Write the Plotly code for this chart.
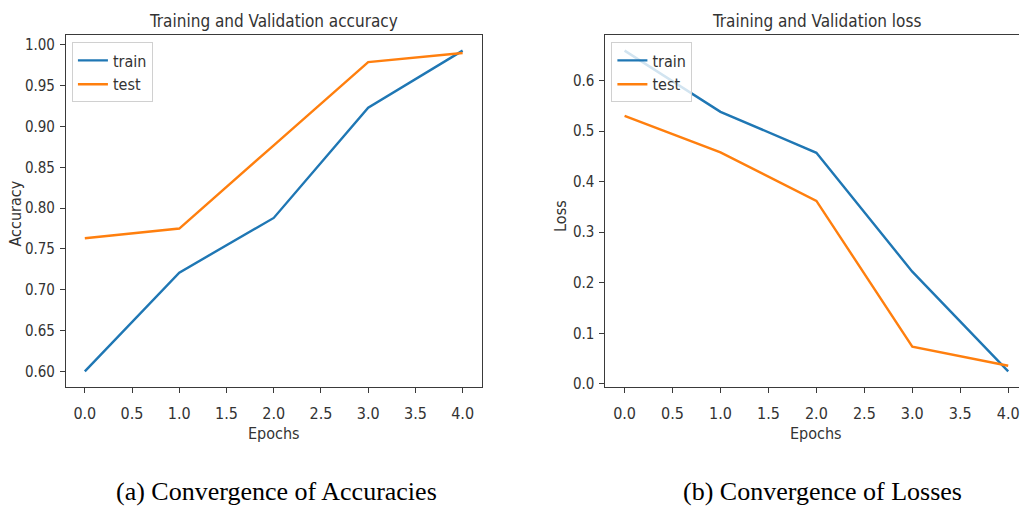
import plotly.graph_objects as go

# Training history (5 epochs)
epochs = [0, 1, 2, 3, 4]
acc_train = [0.600, 0.721, 0.788, 0.923, 0.993]
acc_test = [0.763, 0.775, 0.877, 0.979, 0.990]
loss_train = [0.659, 0.538, 0.457, 0.222, 0.025]
loss_test = [0.530, 0.458, 0.362, 0.074, 0.036]

x_ticks = [0.0, 0.5, 1.0, 1.5, 2.0, 2.5, 3.0, 3.5, 4.0]
acc_ticks = [0.60, 0.65, 0.70, 0.75, 0.80, 0.85, 0.90, 0.95, 1.00]
loss_ticks = [0.0, 0.1, 0.2, 0.3, 0.4, 0.5, 0.6]

W, H = 1020, 509
BLUE = "#1f77b4"
ORANGE = "#ff7f0e"
FONT = "DejaVu Sans Condensed, Liberation Sans Narrow, DejaVu Sans"
SERIF = "Liberation Serif, Times New Roman, serif"
AXC = "#3a3a3a"
TXT = "#333333"


def padded(vals, frac=0.05):
    lo, hi = min(vals), max(vals)
    m = (hi - lo) * frac
    return [lo - m, hi + m]


def px_x(p):
    return p / W


def px_y(p):
    return 1 - p / H


fig = go.Figure()

series = [
    (acc_train, "train", BLUE, "x", "y", "legend"),
    (acc_test, "test", ORANGE, "x", "y", "legend"),
    (loss_train, "train", BLUE, "x2", "y2", "legend2"),
    (loss_test, "test", ORANGE, "x2", "y2", "legend2"),
]
for vals, name, col, xa, ya, lg in series:
    fig.add_trace(go.Scatter(
        x=epochs, y=vals, name=name, mode="lines",
        line=dict(color=col, width=2.4),
        xaxis=xa, yaxis=ya, legend=lg,
    ))

# plot areas in pixels
L1, R1 = 66, 482
L2, R2full = 606, 1028.4
TOP, BOT = 35, 392

xr = padded(epochs)
# the right panel runs past the page edge; keep the same scale
r2_end = xr[0] + (xr[1] - xr[0]) * (W - L2) / (R2full - L2)

axis_common = dict(
    showgrid=False, zeroline=False, showline=True, linecolor=AXC, linewidth=1,
    ticks="outside", ticklen=5, tickwidth=1, tickcolor=AXC,
    ticklabeloverflow="allow",
)
xfont = dict(family=FONT, size=16, color=TXT)
yfont = dict(family=FONT, size=15, color=TXT)

legend_common = dict(
    xanchor="left", yanchor="top",
    bgcolor="rgba(255,255,255,0.8)", bordercolor="#d0d0d0", borderwidth=1,
    font=dict(family=FONT, size=16, color=TXT),
    itemwidth=30, tracegroupgap=0,
)

fig.update_layout(
    width=W, height=H, autosize=False,
    margin=dict(l=0, r=0, t=0, b=0),
    paper_bgcolor="white", plot_bgcolor="white",
    xaxis=dict(domain=[px_x(L1), px_x(R1)], range=xr, tickvals=x_ticks,
               ticktext=[f"{v:.1f}" for v in x_ticks], mirror=True,
               anchor="y", ticklabelstandoff=6, tickfont=xfont, **axis_common),
    yaxis=dict(domain=[px_y(BOT), px_y(TOP)], range=padded(acc_train + acc_test),
               tickvals=acc_ticks, ticktext=[f"{v:.2f}" for v in acc_ticks],
               mirror=True, anchor="x", ticklabelstandoff=2, tickfont=yfont,
               **axis_common),
    xaxis2=dict(domain=[px_x(L2), 1.0], range=[xr[0], r2_end], tickvals=x_ticks,
                ticktext=[f"{v:.1f}" for v in x_ticks], mirror=True,
                anchor="y2", ticklabelstandoff=6, tickfont=xfont, **axis_common),
    yaxis2=dict(domain=[px_y(BOT), px_y(TOP)], range=padded(loss_train + loss_test),
                tickvals=loss_ticks, ticktext=[f"{v:.1f}" for v in loss_ticks],
                mirror=False, anchor="x2", ticklabelstandoff=2, tickfont=yfont,
                **axis_common),
    legend=dict(x=px_x(72), y=px_y(43), **legend_common),
    legend2=dict(x=px_x(612), y=px_y(43), **legend_common),
)

annotations = [
    # panel titles
    dict(text="Training and Validation accuracy", x=px_x((L1 + R1) / 2), y=px_y(21),
         font=dict(family=FONT, size=17, color=TXT)),
    dict(text="Training and Validation loss", x=px_x((L2 + R2full) / 2), y=px_y(21),
         font=dict(family=FONT, size=17, color=TXT)),
    # axis titles
    dict(text="Epochs", x=px_x((L1 + R1) / 2), y=px_y(439),
         font=dict(family=FONT, size=16, color=TXT)),
    dict(text="Epochs", x=px_x((L2 + R2full) / 2), y=px_y(439),
         font=dict(family=FONT, size=16, color=TXT)),
    dict(text="Accuracy", x=px_x(15), y=px_y(216), textangle=-90,
         font=dict(family=FONT, size=16, color=TXT)),
    dict(text="Loss", x=px_x(561), y=px_y(218), textangle=-90,
         font=dict(family=FONT, size=16, color=TXT)),
    # captions
    dict(text="(a) Convergence of Accuracies", x=px_x(277), y=px_y(497),
         font=dict(family=SERIF, size=26, color="black")),
    dict(text="(b) Convergence of Losses", x=px_x(823), y=px_y(497),
         font=dict(family=SERIF, size=26, color="black")),
]
for a in annotations:
    fig.add_annotation(xref="paper", yref="paper", showarrow=False,
                       xanchor="center", yanchor="middle", **a)

fig.write_html("out.html")
